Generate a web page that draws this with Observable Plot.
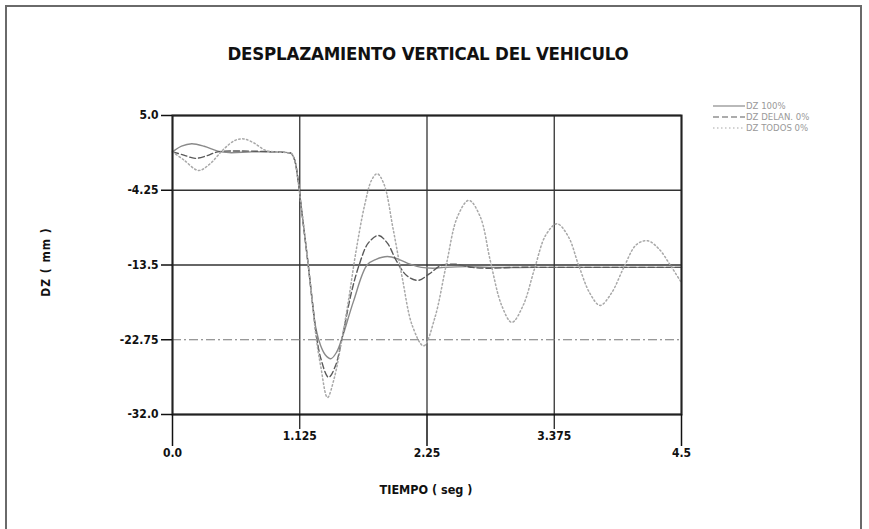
<!DOCTYPE html>
<html><head><meta charset="utf-8">
<script src="https://cdn.jsdelivr.net/npm/d3@7"></script>
<script src="https://cdn.jsdelivr.net/npm/@observablehq/plot@0.6"></script>
<style>
html,body{margin:0;padding:0;background:#fff;overflow:hidden;}
#wrap{position:relative;width:869px;height:529px;overflow:hidden;font-family:"DejaVu Sans Condensed","Liberation Sans Narrow","Liberation Sans",sans-serif;}
#border{position:absolute;left:5px;top:5px;width:853px;height:580px;border:2px solid #6a6a6a;}
#chart{position:absolute;left:0;top:0;}
#title{position:absolute;left:178px;width:500px;top:43px;text-align:center;font-weight:bold;font-size:18.5px;color:#111;letter-spacing:-0.2px;}
#xlab{position:absolute;left:326px;width:200px;top:482px;text-align:center;font-weight:bold;font-size:12.5px;color:#111;}
#ylab{position:absolute;left:46px;top:262px;transform:translate(-50%,-50%) rotate(-90deg);white-space:nowrap;font-weight:bold;font-size:12px;letter-spacing:1px;color:#111;}
#legend{position:absolute;left:713px;top:100px;font-size:9.5px;color:#999;}
#legend div{display:flex;align-items:center;height:11px;}
#legend svg{margin-right:1px;}
</style>
</head><body>
<div id="wrap">
  <div id="border"></div>
  <div id="chart"></div>
  <div id="title"></div>
  <div id="xlab"></div>
  <div id="ylab"></div>
  <div id="legend"></div>
</div>
<script>
// ---- texts ----
const titleText = "DESPLAZAMIENTO VERTICAL DEL VEHICULO";
const xLabel = "TIEMPO ( seg )";
const yLabel = "DZ ( mm )";
const seriesNames = ["DZ 100%", "DZ DELAN. 0%", "DZ TODOS 0%"];

// ---- ticks ----
const xTicks = [0, 1.125, 2.25, 3.375, 4.5];
const xTickLabels = ["0.0", "1.125", "2.25", "3.375", "4.5"];
const xTicksLow = [0, 2.25, 4.5];
const xTicksHigh = [1.125, 3.375];
const yTicks = [5, -4.25, -13.5, -22.75, -32];
const yTickLabels = ["5.0", "-4.25", "-13.5", "-22.75", "-32.0"];

// ---- series: DZ 100% (solid) ----
const tSolid = [0, 0.08, 0.17, 0.28, 0.4, 0.5, 0.7, 0.9, 1.02, 1.05, 1.08, 1.11, 1.14, 1.17, 1.2, 1.24, 1.27, 1.31, 1.35, 1.4, 1.45, 1.5, 1.6, 1.72, 1.8, 1.9, 2.0, 2.1, 2.2, 2.3, 2.4, 2.6, 2.8, 3.2, 3.6, 4.0, 4.5];
const vSolid = [0.5, 1.2, 1.5, 1.2, 0.6, 0.4, 0.5, 0.5, 0.4, 0.3, -0.5, -3, -6.5, -10, -13.5, -18.5, -21.5, -23.5, -24.6, -25.1, -24.3, -22.5, -18, -13.5, -12.8, -12.45, -12.8, -13.4, -13.8, -13.9, -13.8, -13.7, -13.8, -13.8, -13.8, -13.8, -13.8];

// ---- series: DZ DELAN. 0% (dashed) ----
const tDash = [0, 0.1, 0.2, 0.3, 0.4, 0.6, 0.9, 1.02, 1.05, 1.08, 1.11, 1.14, 1.17, 1.2, 1.24, 1.27, 1.31, 1.38, 1.44, 1.5, 1.58, 1.65, 1.73, 1.82, 1.9, 1.98, 2.07, 2.17, 2.27, 2.37, 2.5, 2.65, 2.8, 3.0, 3.5, 4.0, 4.5];
const vDash = [0.5, 0.1, -0.3, 0.0, 0.5, 0.6, 0.5, 0.4, 0.3, -0.5, -3, -6.5, -10, -13.5, -18.5, -22, -25, -27.4, -26, -22.5, -17, -13.5, -10.8, -9.85, -10.8, -13, -14.8, -15.4, -14.6, -13.6, -13.4, -13.8, -13.9, -13.8, -13.8, -13.8, -13.8];

// ---- series: DZ TODOS 0% (dotted) ----
const tDot = [0, 0.1, 0.23, 0.33, 0.45, 0.55, 0.63, 0.72, 0.82, 0.9, 1.02, 1.05, 1.08, 1.11, 1.14, 1.17, 1.2, 1.24, 1.27, 1.31, 1.37, 1.43, 1.5, 1.56, 1.62, 1.7, 1.76, 1.81, 1.87, 1.95, 2.03, 2.12, 2.22, 2.32, 2.42, 2.52, 2.62, 2.72, 2.81, 2.91, 3.0, 3.1, 3.2, 3.3, 3.4, 3.5, 3.59, 3.69, 3.78, 3.88, 3.99, 4.1, 4.2, 4.3, 4.4, 4.5];
const vDot = [0.5, -0.5, -1.8, -1.0, 0.8, 1.9, 2.1, 1.6, 0.7, 0.5, 0.4, 0.3, -0.5, -3, -6.5, -10, -13.5, -18.5, -22.5, -26, -29.9, -27.5, -22.5, -17.5, -12, -6, -3, -2.2, -3.5, -9, -15, -21, -23.5, -20, -13.5, -7.5, -5.5, -7.5, -13, -18.5, -20.6, -18.5, -14, -9.8, -8.4, -10, -13.5, -17, -18.5, -17, -13.8, -11, -10.5, -11.5, -13.5, -15.7];

const font = '"DejaVu Sans Condensed","Liberation Sans Narrow","Liberation Sans",sans-serif';
const toRows = (ts, vs) => ts.map((t, i) => ({t, v: vs[i]}));
const solidRows = toRows(tSolid, vSolid);
const dashRows = toRows(tDash, vDash);
const dotRows = toRows(tDot, vDot);

const styles = [
  {stroke: "#8a8a8a", strokeWidth: 1.4, dash: null},
  {stroke: "#5a5a5a", strokeWidth: 1.4, dash: "6,3"},
  {stroke: "#a8a8a8", strokeWidth: 1.5, dash: "1.5,2.5"}
];

const xFmt = d => xTickLabels[xTicks.indexOf(d)];
const yFmt = d => yTickLabels[yTicks.indexOf(d)];

const chart = Plot.plot({
  width: 869,
  height: 529,
  marginLeft: 172,
  marginRight: 188,
  marginTop: 115,
  marginBottom: 115,
  style: {background: "transparent", fontFamily: font, color: "#111"},
  x: {domain: [0, 4.5]},
  y: {domain: [-32, 5]},
  marks: [
    Plot.gridX(xTicks, {stroke: "#333", strokeOpacity: 1, strokeWidth: 1.3}),
    Plot.gridY(yTicks.filter(d => d !== -22.75), {stroke: "#333", strokeOpacity: 1, strokeWidth: 1.5}),
    Plot.gridY([-22.75], {stroke: "#777", strokeOpacity: 1, strokeWidth: 1.2, strokeDasharray: "9,3,2,3"}),
    Plot.line(solidRows, {x: "t", y: "v", curve: "catmull-rom", stroke: styles[0].stroke, strokeWidth: styles[0].strokeWidth}),
    Plot.line(dashRows, {x: "t", y: "v", curve: "catmull-rom", stroke: styles[1].stroke, strokeWidth: styles[1].strokeWidth, strokeDasharray: styles[1].dash}),
    Plot.line(dotRows, {x: "t", y: "v", curve: "catmull-rom", stroke: styles[2].stroke, strokeWidth: styles[2].strokeWidth, strokeDasharray: styles[2].dash}),
    Plot.frame({stroke: "#222", strokeWidth: 2}),
    Plot.axisY(yTicks, {tickFormat: yFmt, tickSize: 11, tickPadding: 3, label: null, fontWeight: "bold", fontSize: 12, stroke: "#111", strokeWidth: 1.5}),
    Plot.axisX(xTicksLow, {tickFormat: xFmt, tickSize: 32, tickPadding: 2, label: null, fontWeight: "bold", fontSize: 12, stroke: "#111", strokeWidth: 1.5}),
    Plot.axisX(xTicksHigh, {tickFormat: xFmt, tickSize: 15, tickPadding: 2, label: null, fontWeight: "bold", fontSize: 12, stroke: "#111", strokeWidth: 1.2})
  ]
});
document.getElementById("chart").appendChild(chart);

document.getElementById("title").textContent = titleText;
document.getElementById("xlab").textContent = xLabel;
document.getElementById("ylab").textContent = yLabel;

const legend = document.getElementById("legend");
seriesNames.forEach((name, i) => {
  const row = document.createElement("div");
  const s = styles[i];
  row.innerHTML = `<svg width="32" height="6"><line x1="0" y1="3" x2="32" y2="3" stroke="${s.stroke}" stroke-width="1.2" ${s.dash ? `stroke-dasharray="${s.dash}"` : ""}/></svg><span>${name}</span>`;
  legend.appendChild(row);
});
</script>
</body></html>
